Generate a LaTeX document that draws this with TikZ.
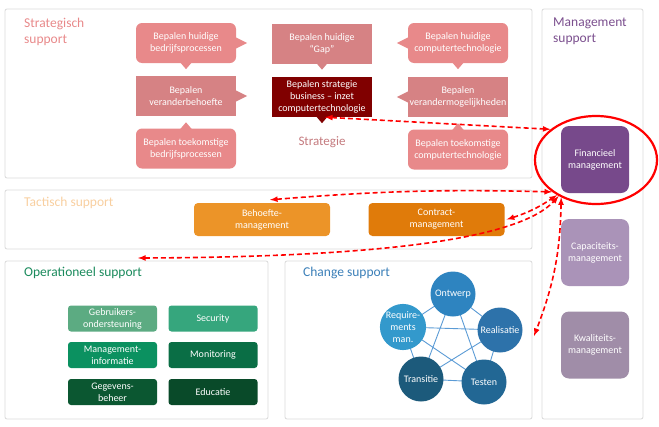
\documentclass[tikz,border=0pt]{standalone}
\usepackage{fontspec}
\setmainfont{Carlito}
\usetikzlibrary{arrows,shapes.geometric,backgrounds}

\definecolor{stratlight}{HTML}{E8898A}
\definecolor{stratmid}{HTML}{D68284}
\definecolor{stratdark}{HTML}{800000}
\definecolor{strattext}{HTML}{C47A7E}
\definecolor{tacttitle}{HTML}{F8CFA0}
\definecolor{behoeftecol}{HTML}{EC9428}
\definecolor{contractcol}{HTML}{E07B0A}
\definecolor{opstitle}{HTML}{1A8A5C}
\definecolor{gebruikerscol}{HTML}{5CAB82}
\definecolor{securitycol}{HTML}{36A67D}
\definecolor{infocol}{HTML}{0B9160}
\definecolor{monitoringcol}{HTML}{0A6E45}
\definecolor{gegevenscol}{HTML}{0B5731}
\definecolor{educatiecol}{HTML}{094A29}
\definecolor{chgtitle}{HTML}{3B7FB8}
\definecolor{ontwerpcol}{HTML}{2E84C0}
\definecolor{realisatiecol}{HTML}{2D72AA}
\definecolor{testencol}{HTML}{226794}
\definecolor{transitiecol}{HTML}{1C5A7B}
\definecolor{reqcol}{HTML}{3399CC}
\definecolor{chgline}{HTML}{5B9BD5}
\definecolor{mgmttitle}{HTML}{7B4F8E}
\definecolor{financieelcol}{HTML}{77498B}
\definecolor{capaciteitcol}{HTML}{AA93B8}
\definecolor{kwaliteitcol}{HTML}{A08DA8}

\tikzset{
	panel/.style={draw=black!15, line width=0.8pt, rounded corners=2pt},
	paneltitle/.style={anchor=north west, inner sep=0pt, align=left, font=\fontsize{13.5}{16}\selectfont},
	whitetext/.style={text=white, align=center, inner sep=0pt, font=\fontsize{10}{12}\selectfont},
	stratbox/.style={whitetext, minimum width=100pt, minimum height=40pt},
	tactbox/.style={whitetext, minimum width=136pt, minimum height=33pt, rounded corners=4pt},
	opsbox/.style={whitetext, minimum width=89pt, minimum height=26pt, rounded corners=3pt},
	chgcircle/.style={whitetext, circle, minimum size=45pt},
	mgmtbox/.style={whitetext, minimum width=68pt, minimum height=67pt, rounded corners=8pt},
	link/.style={red, dash pattern=on 5pt off 3pt, line width=1.6pt, latex-latex},
}

\begin{document}
\begin{tikzpicture}[x=1pt,y=-1pt]
		\useasboundingbox (0,0) rectangle (659,426);
%		\draw[help lines,step=10] (0,0) grid (659,426);
		% panels
		\draw[panel] (5,9) rectangle (532,178);
		\draw[panel] (5,190) rectangle (532,249);
		\draw[panel] (5,261) rectangle (268,419);
		\draw[panel] (285,261) rectangle (532,419);
		\draw[panel] (542,9) rectangle (643,419);
		\path (24,18) node[paneltitle,text=stratlight] {Strategisch\\support};
		\path (24,197) node[paneltitle,text=tacttitle] {Tactisch support};
		\path (24,267) node[paneltitle,text=opstitle] {Operationeel support};
		\path (303,267) node[paneltitle,text=chgtitle] {Change support};
		\path (553,18) node[paneltitle,text=mgmttitle] {Management\\support};

		% strategisch
		\path (186,43) node(huidig_bedrijf) [stratbox,fill=stratlight,rounded corners=6pt] {Bepalen huidige\\bedrijfsprocessen};
		\path (186,96) node(veranderbehoefte) [stratbox,fill=stratmid] {Bepalen\\veranderbehoefte};
		\path (186,148.5) node(toekomst_bedrijf) [stratbox,fill=stratlight,rounded corners=6pt] {Bepalen toekomstige\\bedrijfsprocessen};
		\path (322,43.5) node(gap) [stratbox,fill=stratmid] {Bepalen huidige\\“Gap”};
		\path (322,97) node(strategie) [stratbox,fill=stratdark] {Bepalen strategie\\business – inzet\\computertechnologie};
		\path (458,43) node(huidig_ct) [stratbox,fill=stratlight,rounded corners=6pt] {Bepalen huidige\\computertechnologie};
		\path (458,97) node(verandermog) [stratbox,fill=stratmid] {Bepalen\\verandermogelijkheden};
		\path (458,149.5) node(toekomst_ct) [stratbox,fill=stratlight,rounded corners=6pt] {Bepalen toekomstige\\computertechnologie};
		\path (322,142) node(strategie_label) [font=\fontsize{13}{15}\selectfont,text=strattext] {Strategie};
		\fill[stratlight] ([xshift=-1]huidig_bedrijf.east) ++(0,-6) -- ++(12,6) -- ++(-12,6) -- cycle;
		\fill[stratlight] ([yshift=1]huidig_bedrijf.south) ++(-6,0) -- ++(6,7) -- ++(6,-7) -- cycle;
		\fill[stratmid] ([xshift=-1]veranderbehoefte.east) ++(0,-6) -- ++(12,6) -- ++(-12,6) -- cycle;
		\fill[stratlight] ([yshift=-1]toekomst_bedrijf.north) ++(-6,0) -- ++(6,-7) -- ++(6,7) -- cycle;
		\fill[stratmid] ([yshift=1]gap.south) ++(-6,0) -- ++(6,7) -- ++(6,-7) -- cycle;
		\fill[stratdark] ([yshift=1]strategie.south) ++(-6,0) -- ++(6,7) -- ++(6,-7) -- cycle;
		\fill[stratlight] ([xshift=1]huidig_ct.west) ++(0,-6) -- ++(-12,6) -- ++(12,6) -- cycle;
		\fill[stratlight] ([yshift=1]huidig_ct.south) ++(-6,0) -- ++(6,7) -- ++(6,-7) -- cycle;
		\fill[stratmid] ([xshift=1]verandermog.west) ++(0,-6) -- ++(-12,6) -- ++(12,6) -- cycle;
		\fill[stratlight] ([yshift=-1]toekomst_ct.north) ++(-6,0) -- ++(6,-7) -- ++(6,7) -- cycle;

		% tactisch
		\path (262,219.5) node(behoefte) [tactbox,fill=behoeftecol] {Behoefte-\\management};
		\path (436.5,219.5) node(contract) [tactbox,fill=contractcol] {Contract-\\management};

		% operationeel
		\path (112.5,318.5) node(gebruikers) [opsbox,fill=gebruikerscol] {Gebruikers-\\ondersteuning};
		\path (213,318.5) node(security) [opsbox,fill=securitycol] {Security};
		\path (112.5,355) node(mgmtinfo) [opsbox,fill=infocol] {Management-\\informatie};
		\path (213,355) node(monitoring) [opsbox,fill=monitoringcol] {Monitoring};
		\path (112.5,392) node(gegevens) [opsbox,fill=gegevenscol] {Gegevens-\\beheer};
		\path (213,392) node(educatie) [opsbox,fill=educatiecol] {Educatie};

		% change
		\path (453,294) node(ontwerp) [chgcircle,fill=ontwerpcol] {Ontwerp};
		\path (500,330) node(realisatie) [chgcircle,fill=realisatiecol] {Realisatie};
		\path (484,382) node(testen) [chgcircle,fill=testencol] {Testen};
		\path (421,379) node(transitie) [chgcircle,fill=transitiecol] {Transitie};
		\path (403,327) node(requirements) [chgcircle,fill=reqcol] {Require-\\ments\\man.};
		\begin{pgfonlayer}{background}
			\draw[chgline,line width=0.9pt] (ontwerp.center) -- (realisatie.center) -- (testen.center) -- (transitie.center) -- (requirements.center) -- (ontwerp.center);
			\draw[chgline,line width=0.9pt] (ontwerp.center) -- (testen.center) (ontwerp.center) -- (transitie.center);
			\draw[chgline,line width=0.9pt] (requirements.center) -- (realisatie.center) (requirements.center) -- (testen.center) (realisatie.center) -- (transitie.center);
		\end{pgfonlayer}

		% management
		\path (595,159.5) node(financieel) [mgmtbox,fill=financieelcol] {Financieel\\management};
		\path (595,252.5) node(capaciteit) [mgmtbox,fill=capaciteitcol] {Capaciteits-\\management};
		\path (595,345) node(kwaliteit) [mgmtbox,fill=kwaliteitcol] {Kwaliteits-\\management};
		\path (596,160) node(focus) [ellipse,draw=red,line width=2.2pt,minimum width=122pt,minimum height=88pt] {};

		% links
		\path (138,258) coordinate (ops_top);
		\path (534,336) coordinate (chg_right);
		\draw[link] ([xshift=3]strategie.south) -- (focus.146);
		\draw[link] ([xshift=8,yshift=3]behoefte.north) to[bend left=3] (focus.216);
		\draw[link] ([xshift=2]contract.east) to[bend right=8] (focus.222);
		\draw[link] (ops_top) .. controls (400,257) and (522,236) .. (focus.224);
		\draw[link] (focus.227) to[bend left=10] (chg_right);
	\end{tikzpicture}
\end{document}
